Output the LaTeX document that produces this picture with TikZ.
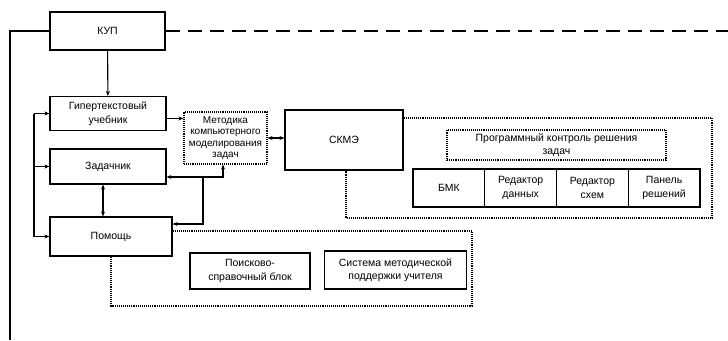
\documentclass[tikz,border=0pt]{standalone}
\usepackage{fontspec}
\setmainfont{Liberation Sans}
\usetikzlibrary{arrows.meta,positioning}

\begin{document}
\begin{tikzpicture}[x=1pt,y=-1pt,line width=1.1pt,font=\fontsize{10.5}{13.5}\selectfont,
		blk/.style={draw,align=center,inner sep=1pt},
		dotblk/.style={blk,densely dotted},
		frame/.style={densely dotted},
		arr/.style={-{Stealth[length=5pt,width=4pt]}},
		darr/.style={{Stealth[length=5pt,width=4pt]}-{Stealth[length=5pt,width=4pt]}}]
	\useasboundingbox (0,0) rectangle (728,340);
	
	\node[blk,minimum width=115pt,minimum height=38pt](kup) at (107.5,31){КУП};
	\node[blk,minimum width=116pt,minimum height=34pt](hyper) at (108,113.5){Гипертекстовый\\учебник};
	\node[blk,minimum width=116pt,minimum height=35pt](tasks) at (108,166.5){Задачник};
	\node[blk,minimum width=122pt,minimum height=39pt](help) at (111,236.5){Помощь};
	\node[dotblk,minimum width=83pt,minimum height=52pt,font=\fontsize{10}{11.5}\selectfont](method) at (225.5,138){Методика\\компьютерного\\моделирования\\задач};
	\node[blk,minimum width=118pt,minimum height=60pt](skme) at (344,140){СКМЭ};
	\node[dotblk,minimum width=219pt,minimum height=30pt](control) at (556.5,145){Программный контроль решения\\задач};
	\foreach \t [count=\n] in {{БМК},{Редактор\\данных},{Редактор\\схем},{Панель\\решений}}
		\node[blk,minimum width=71.75pt,minimum height=38pt](E\n) at ({413+(\n-0.5)*71.75},188){\t};
	\node[blk,minimum width=120pt,minimum height=36pt](search) at (250,271){Поисково-\\справочный блок};
	\node[blk,minimum width=142pt,minimum height=38pt](teacher) at (395.5,270){Система методической\\поддержки учителя};
	
	\coordinate (lb) at (10,340);
	\coordinate (re) at (728,31);
	\draw (kup.west) -| (lb);
	\draw[dash pattern=on 14pt off 8pt] (kup.east) -- (re);
	\draw[arr] (kup) -- (hyper);
	
	\coordinate (bt) at (34,113.5);
	\coordinate (bb) at (34,236.5);
	\draw (bt) -- (bb);
	\draw[arr] (bt) -- (hyper.west);
	\draw[arr] (bt|-tasks.west) -- (tasks.west);
	\draw[arr] (bb) -- (help.west);
	\draw[darr] ([xshift=-5pt]tasks.south) -- ([xshift=-5pt]tasks.south|-help.north);
	
	\draw[arr] ([yshift=-5pt]hyper.east) -- ([yshift=-5pt]hyper.east-|method.west);
	\draw[darr] (method.east) -- (method.east-|skme.west);
	
	\coordinate (j1) at (203,177);
	\coordinate (j2) at (223,177);
	\coordinate (j3) at (203,224);
	\draw[darr] (j2|-method.south) -- (j2) -- (j2-|tasks.east);
	\draw[arr] (j1) -- (j3) -- (j3-|help.east);
	
	\coordinate (s1) at (712,118);
	\coordinate (s2) at (346,218);
	\draw[frame] (skme.east|-s1) -- (s1) |- (s2) -- (s2|-skme.south);
	
	\coordinate (h1) at (472,231);
	\coordinate (h2) at (111,306);
	\draw[frame] (help.east|-h1) -- (h1) |- (h2) -- (h2|-help.south);
\end{tikzpicture}
\end{document}
